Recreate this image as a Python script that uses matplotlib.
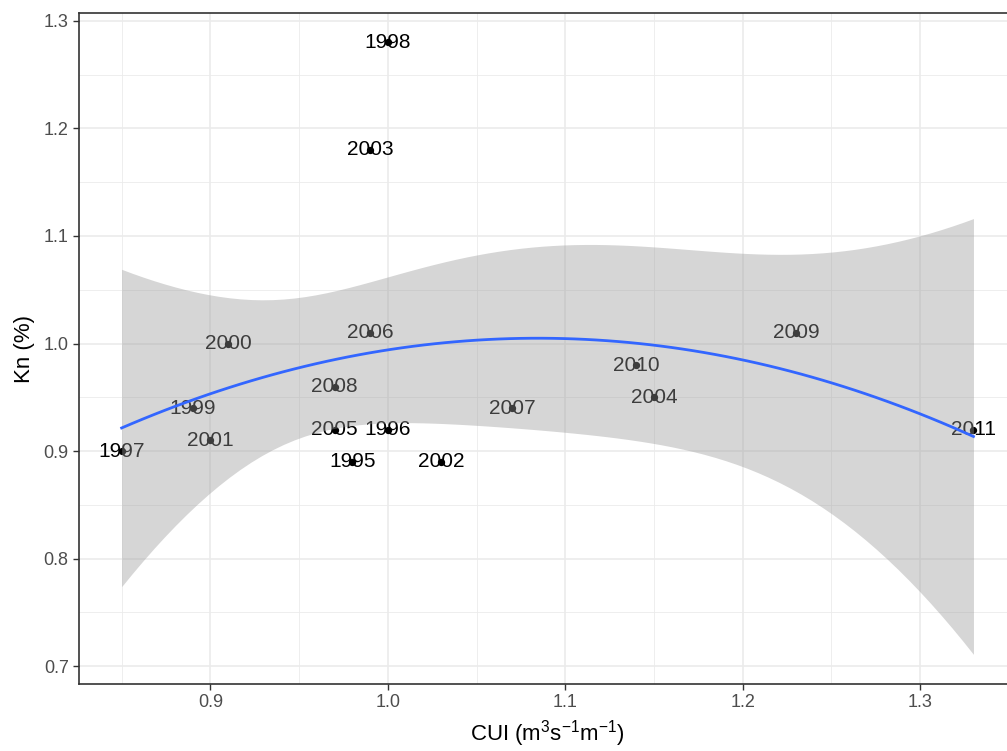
import math
import numpy as np
import matplotlib
matplotlib.use("Agg")
import matplotlib.pyplot as plt
from matplotlib.ticker import MultipleLocator

plt.rcParams['font.family'] = ['Liberation Sans', 'DejaVu Sans']
plt.rcParams['mathtext.fontset'] = 'custom'
plt.rcParams['mathtext.rm'] = 'Liberation Sans'
plt.rcParams['mathtext.it'] = 'Liberation Sans:italic'

# data
years = ["1995", "1996", "1997", "1998", "1999", "2000", "2001", "2002", "2003",
         "2004", "2005", "2006", "2007", "2008", "2009", "2010", "2011"]
cui = [0.98, 1.00, 0.85, 1.00, 0.89, 0.91, 0.90, 1.03, 0.99,
       1.15, 0.97, 0.99, 1.07, 0.97, 1.23, 1.14, 1.33]
kn = [0.89, 0.92, 0.90, 1.28, 0.94, 1.00, 0.91, 0.89, 1.18,
      0.95, 0.92, 1.01, 0.94, 0.96, 1.01, 0.98, 0.92]

x = np.array(cui)
y = np.array(kn)

# quadratic least squares fit with 95% confidence band (lm, y ~ poly(x, 2))
X = np.column_stack([np.ones_like(x), x, x ** 2])
beta, *_ = np.linalg.lstsq(X, y, rcond=None)
res = y - X @ beta
df = len(x) - 3
sigma = math.sqrt(np.sum(res ** 2) / df)
XtX_inv = np.linalg.inv(X.T @ X)


def t_quantile(p, nu):
    c = math.gamma((nu + 1) / 2) / (math.sqrt(nu * math.pi) * math.gamma(nu / 2))
    tt = np.linspace(0, 20, 200001)
    pdf = c * (1 + tt ** 2 / nu) ** (-(nu + 1) / 2)
    cdf = 0.5 + np.concatenate([[0], np.cumsum((pdf[1:] + pdf[:-1]) / 2 * np.diff(tt))])
    return np.interp(p, cdf, tt)


tq = t_quantile(0.975, df)
xs = np.linspace(x.min(), x.max(), 80)
Xs = np.column_stack([np.ones_like(xs), xs, xs ** 2])
fit = Xs @ beta
se = sigma * np.sqrt(np.einsum('ij,jk,ik->i', Xs, XtX_inv, Xs))

fig = plt.figure(figsize=(10.07, 7.51), dpi=100)
ax = fig.add_axes([0.0785, 0.0892, 0.9305, 0.8935])

ax.scatter(x, y, s=18, color='black', zorder=2)
for xi, yi, lab in zip(x, y, years):
    ax.text(xi, yi, lab, fontsize=15, ha='center', va='center', color='black', zorder=3)
ax.fill_between(xs, fit - tq * se, fit + tq * se, color='#999999', alpha=0.4,
                linewidth=0, zorder=4)
ax.plot(xs, fit, color='#3366FF', linewidth=2, zorder=5)

ax.set_xlim(0.826, 1.354)
ax.set_ylim(0.6833, 1.3074)
ax.xaxis.set_major_locator(MultipleLocator(0.1))
ax.yaxis.set_major_locator(MultipleLocator(0.1))
ax.xaxis.set_minor_locator(MultipleLocator(0.05))
ax.yaxis.set_minor_locator(MultipleLocator(0.05))
ax.grid(which='major', color='#EBEBEB', linewidth=1.2, zorder=0)
ax.grid(which='minor', color='#EBEBEB', linewidth=0.6, zorder=0)
ax.set_axisbelow(True)
ax.tick_params(which='major', direction='out', length=4.5, width=1,
               color='#333333', labelcolor='#4D4D4D', labelsize=13, pad=3)
ax.tick_params(which='minor', length=0)
for s in ax.spines.values():
    s.set_color('#333333')
    s.set_linewidth(1.2)

ax.set_xlabel(r'CUI (m$^{3}$s$^{-1}$m$^{-1}$)', fontsize=16, labelpad=5)
ax.set_ylabel('Kn (%)', fontsize=16, labelpad=6)

plt.savefig("out.png", dpi=100)
